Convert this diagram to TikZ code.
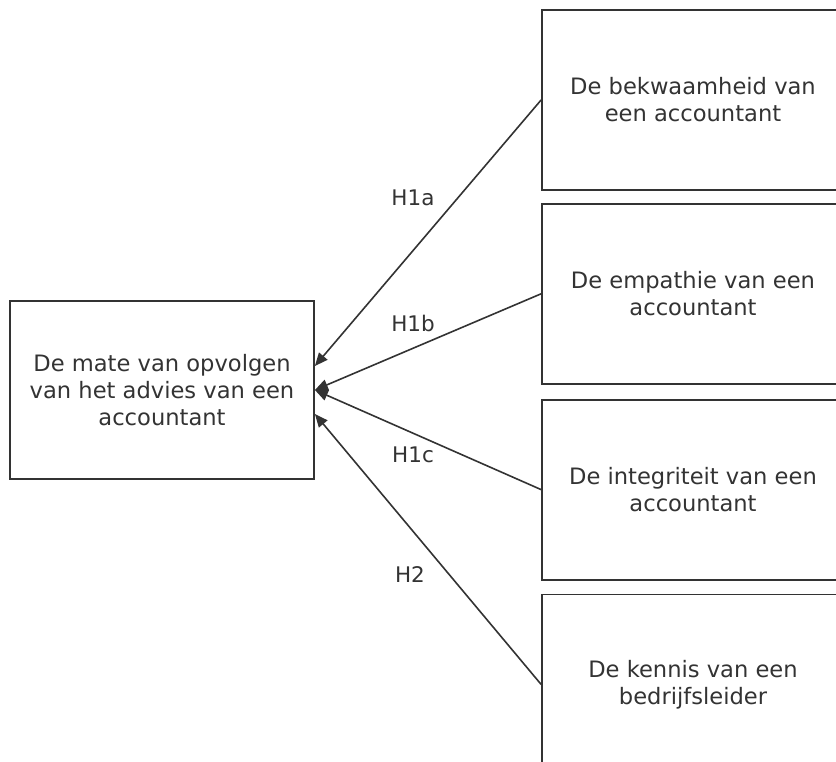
\documentclass[tikz,border=0pt]{standalone}
\usepackage{fontspec}
\setmainfont{DejaVu Sans}
\usetikzlibrary{positioning,arrows.meta}
\definecolor{lijn}{HTML}{333333}
\begin{document}
\begin{tikzpicture}[
    x=1pt, y=-1pt,
    node distance=13pt,
    blok/.style={rectangle, draw=lijn, line width=1.8pt, minimum width=302pt, minimum height=180pt, align=center, text=lijn, font=\fontsize{22.6}{27}\selectfont},
    hyp/.style={text=lijn, font=\fontsize{21.5}{24}\selectfont},
    pijl/.style={-{Triangle[length=13pt,width=11pt]}, draw=lijn, line width=1.6pt}
]
    \useasboundingbox (0,0) rectangle (836,762);
    \clip (0,0) rectangle (836,762);

    % afhankelijke variabele
    \node[blok, minimum width=304pt, minimum height=178pt] (advies) at (162,390) {De mate van opvolgen\\van het advies van een\\accountant};

    % onafhankelijke variabelen
    \node[blok] (bekw) at (693,100) {De bekwaamheid van\\een accountant};
    \node[blok] (empa) [below=12pt of bekw] {De empathie van een\\accountant};
    \node[blok] (integ) [below=14pt of empa] {De integriteit van een\\accountant};
    \node[blok] (kennis) [below=13pt of integ] {De kennis van een\\bedrijfsleider};

    % hypothesen
    \node[hyp] (h1a) at (413,198) {H1a};
    \node[hyp] (h1b) at (413,323) {H1b};
    \node[hyp] (h1c) at (413,455) {H1c};
    \node[hyp] (h2) at (410,575) {H2};

    % pijlen
    \draw[pijl] (bekw.west) -- ([yshift=24pt]advies.east);
    \draw[pijl] (empa.west) -- (advies.east);
    \draw[pijl] (integ.west) -- (advies.east);
    \draw[pijl] (kennis.west) -- ([yshift=-24pt]advies.east);
\end{tikzpicture}
\end{document}
